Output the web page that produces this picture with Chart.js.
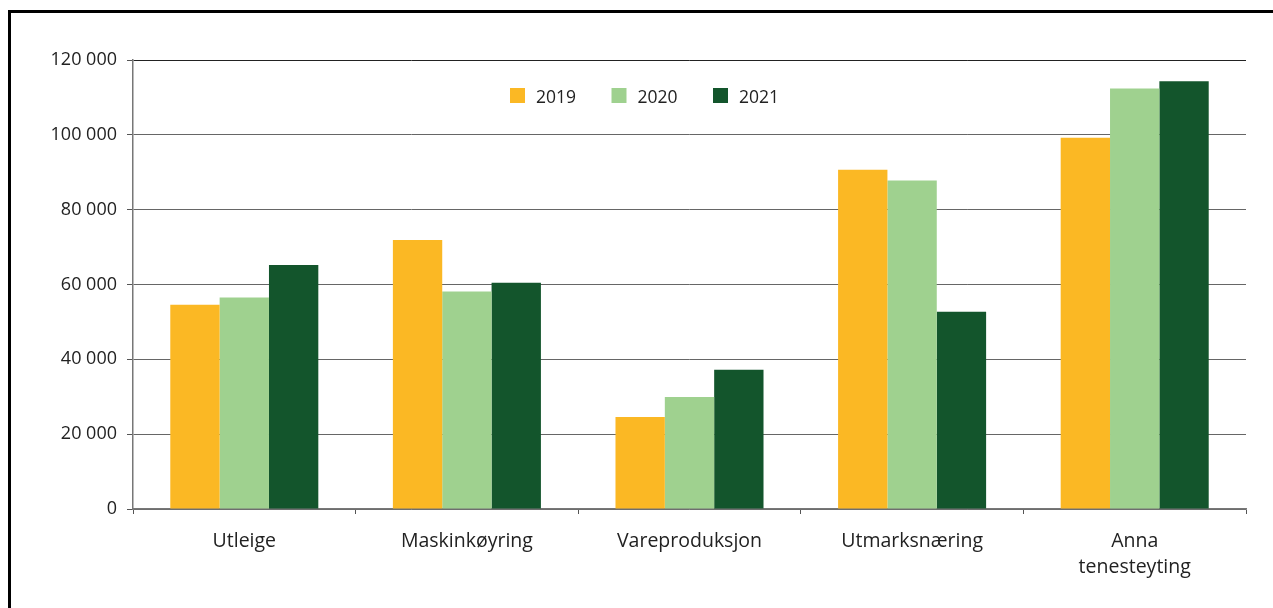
<!DOCTYPE html>
<html>
<head>
<meta charset="utf-8">
<script src="https://cdn.jsdelivr.net/npm/chart.js@4.4.1/dist/chart.umd.min.js"></script>
<style>
  html, body { margin: 0; padding: 0; background: #fff; overflow: hidden; }
  #ramme {
    position: absolute; left: 8px; top: 10px; width: 1300px; height: 640px;
    border-left: 3px solid #000; border-top: 3px solid #000;
  }
  #graf { position: absolute; left: 0; top: 0; }
</style>
</head>
<body>
<div id="ramme"></div>
<canvas id="graf" width="1273" height="608"></canvas>
<script>
const kategoriar = ['Utleige', 'Maskinkøyring', 'Vareproduksjon', 'Utmarksnæring', ['Anna', 'tenesteyting']];
const aar = ['2019', '2020', '2021'];
const verdi2019 = [54600, 71900, 24600, 90700, 99200];
const verdi2020 = [56500, 58100, 29900, 87800, 112400];
const verdi2021 = [65200, 60500, 37200, 52700, 114300];
const fargar = ['#FBB824', '#9FD18F', '#13552C'];
const yTicks = [0, 20000, 40000, 60000, 80000, 100000, 120000];

const skrift = "'Open Sans', 'Liberation Sans', sans-serif";

// legend teikna inne i plottområdet
const legendInne = {
    id: 'legendInne',
    afterDraw(chart) {
        const ctx = chart.ctx;
        let x = 510;
        const y = 88;
        ctx.save();
        ctx.font = `17.5px ${skrift}`;
        ctx.textBaseline = 'middle';
        chart.data.datasets.forEach(ds => {
            ctx.fillStyle = ds.backgroundColor;
            ctx.fillRect(x, y, 15, 15);
            ctx.fillStyle = '#222';
            ctx.fillText(ds.label, x + 26, y + 10);
            x += 101.5;
        });
        ctx.restore();
    }
};

const ctx = document.getElementById('graf').getContext('2d');

new Chart(ctx, {
    type: 'bar',
    data: {
        labels: kategoriar,
        datasets: [
            { label: aar[0], data: verdi2019, backgroundColor: fargar[0] },
            { label: aar[1], data: verdi2020, backgroundColor: fargar[1] },
            { label: aar[2], data: verdi2021, backgroundColor: fargar[2] },
        ].map(ds => Object.assign(ds, {
            borderWidth: 0,
            categoryPercentage: 0.665,
            barPercentage: 1,
        })),
    },
    options: {
        responsive: false,
        animation: false,
        layout: { padding: { left: 0, right: 27, top: 60, bottom: 0 } },
        plugins: {
            legend: { display: false },
            tooltip: { enabled: false },
        },
        scales: {
            x: {
                grid: {
                    offset: true,
                    drawOnChartArea: false,
                    tickLength: 5,
                    tickColor: '#555',
                },
                border: { color: '#777', width: 1.5 },
                ticks: {
                    color: '#222',
                    padding: 14,
                    maxRotation: 0,
                    font: { family: skrift, size: 19.5, lineHeight: 1.34 },
                },
                afterFit(scale) { scale.height = 99; },
            },
            y: {
                min: 0,
                max: 120000,
                afterBuildTicks(scale) { scale.ticks = yTicks.map(v => ({ value: v })); },
                grid: {
                    color: c => c.tick && c.tick.value === 120000 ? '#222' : '#666',
                    lineWidth: 1,
                    tickLength: 6,
                    tickColor: '#555',
                },
                border: { color: '#777', width: 1.5 },
                ticks: {
                    color: '#222',
                    padding: 10,
                    font: { family: skrift, size: 18 },
                    callback: v => String(v).replace(/\B(?=(\d{3})+(?!\d))/g, ' '),
                },
                afterFit(scale) { scale.width = 133; },
            },
        },
    },
    plugins: [legendInne],
});
</script>
</body>
</html>
